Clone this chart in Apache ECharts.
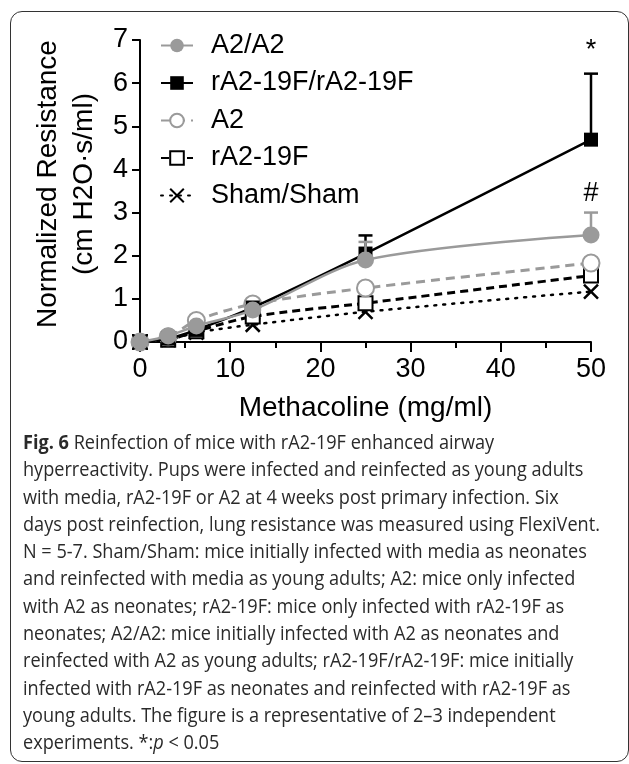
<!DOCTYPE html>
<html>
<head>
<meta charset="utf-8">
<script src="https://cdn.jsdelivr.net/npm/echarts@6/dist/echarts.min.js"></script>
<style>
html, body { margin: 0; padding: 0; background: #fff; }
#wrap { position: relative; width: 629px; height: 764px; overflow: hidden; }
#frame { position: absolute; left: 10px; top: 11px; width: 619px; height: 751px; border: 1.6px solid #333; border-radius: 12px; box-sizing: border-box; }
#chart { position: absolute; left: 0; top: 0; width: 629px; height: 764px; }
#caption { position: absolute; left: 23px; top: 428px; font-family: 'Open Sans', sans-serif; font-size: 20px; line-height: 27.3px; color: #2a2a2a; white-space: nowrap; transform-origin: left top; }
#caption span { display: inline-block; }
</style>
</head>
<body>
<div id="wrap">
  <div id="frame"></div>
  <div id="chart"></div>
  <div id="caption">
    <div><span><b>Fig. 6</b> Reinfection of mice with rA2-19F enhanced airway</span></div>
    <div><span>hyperreactivity. Pups were infected and reinfected as young adults</span></div>
    <div><span>with media, rA2-19F or A2 at 4 weeks post primary infection. Six</span></div>
    <div><span id="ref-line">days post reinfection, lung resistance was measured using FlexiVent.</span></div>
    <div><span>N = 5-7. Sham/Sham: mice initially infected with media as neonates</span></div>
    <div><span>and reinfected with media as young adults; A2: mice only infected</span></div>
    <div><span>with A2 as neonates; rA2-19F: mice only infected with rA2-19F as</span></div>
    <div><span>neonates; A2/A2: mice initially infected with A2 as neonates and</span></div>
    <div><span>reinfected with A2 as young adults; rA2-19F/rA2-19F: mice initially</span></div>
    <div><span>infected with rA2-19F as neonates and reinfected with rA2-19F as</span></div>
    <div><span>young adults. The figure is a representative of 2–3 independent</span></div>
    <div><span>experiments. *:<i>p</i> &lt; 0.05</span></div>
  </div>
</div>
<script>
// methacholine doses (mg/ml)
const doses = [0, 3.125, 6.25, 12.5, 25, 50];

const a2a2 = [0, 0.14, 0.37, 0.74, 1.9, 2.48];
const a2a2Err = [0, 0, 0, 0.05, 0.42, 0.52];
const a2a2Sig = ['', '', '', '', '', '#'];

const ra2ra2 = [0, 0.08, 0.28, 0.8, 2.05, 4.69];
const ra2ra2Err = [0, 0, 0, 0.05, 0.42, 1.53];
const ra2ra2Sig = ['', '', '', '', '', '*'];

const a2 = [0, 0.12, 0.5, 0.88, 1.25, 1.83];
const ra2 = [0, 0.05, 0.25, 0.59, 0.9, 1.54];
const sham = [0, 0.05, 0.22, 0.4, 0.7, 1.17];

const names = ['A2/A2', 'rA2-19F/rA2-19F', 'A2', 'rA2-19F', 'Sham/Sham'];

const GRAY = '#9a9a9a';
const FONT = "'Liberation Sans', Arial, sans-serif";

function pts(vals) {
  return doses.map((d, i) => [d, vals[i]]);
}

function errSeries(vals, errs, sig, color, z) {
  return {
    type: 'custom',
    name: 'err',
    z: z,
    silent: true,
    data: doses.map((d, i) => [d, vals[i], vals[i] + errs[i]]),
    encode: { x: 0, y: [1, 2] },
    renderItem: function (params, api) {
      const p0 = api.coord([api.value(0), api.value(1)]);
      const p1 = api.coord([api.value(0), api.value(2)]);
      const kids = [];
      if (p0[1] - p1[1] > 1) {
        kids.push({ type: 'line', shape: { x1: p0[0], y1: p0[1], x2: p1[0], y2: p1[1] }, style: { stroke: color, lineWidth: 2.5 } });
        kids.push({ type: 'line', shape: { x1: p1[0] - 7, y1: p1[1], x2: p1[0] + 7, y2: p1[1] }, style: { stroke: color, lineWidth: 2.5 } });
      }
      const s = sig[params.dataIndex];
      if (s) {
        // the asterisk glyph sits high, so lift it a bit more
        const lift = s === '*' ? 10 : 6;
        kids.push({ type: 'text', x: p1[0], y: p1[1] - lift, style: { text: s, fill: '#000', font: '27px ' + FONT, align: 'center', verticalAlign: 'bottom' } });
      }
      return { type: 'group', children: kids };
    }
  };
}

const chart = echarts.init(document.getElementById('chart'));
chart.setOption({
  animation: false,
  grid: { left: 140, right: 38, top: 40, bottom: 422 },
  legend: {
    data: names,
    orient: 'vertical',
    left: 160,
    top: 32,
    itemWidth: 32,
    itemHeight: 17,
    itemGap: 10.5,
    padding: 0,
    textStyle: { fontSize: 27, lineHeight: 27, color: '#000', fontFamily: FONT, padding: [0, 0, 0, 13] }
  },
  xAxis: {
    type: 'value', min: 0, max: 50, interval: 10,
    name: 'Methacoline (mg/ml)', nameLocation: 'middle', nameGap: 52,
    nameTextStyle: { fontSize: 28, lineHeight: 28, color: '#000', fontFamily: FONT },
    axisLine: { lineStyle: { color: '#000', width: 2 } },
    axisTick: { length: 10, lineStyle: { width: 2, color: '#000' } },
    minorTick: { show: true, splitNumber: 2, length: 6, lineStyle: { width: 2, color: '#000' } },
    axisLabel: { fontSize: 27, color: '#000', fontFamily: FONT, margin: 14 },
    splitLine: { show: false }
  },
  yAxis: {
    type: 'value', min: 0, max: 7, interval: 1,
    name: 'Normalized Resistance\n(cm H2O·s/ml)', nameLocation: 'middle', nameGap: 38, nameRotate: 90,
    nameTextStyle: { fontSize: 28, lineHeight: 36, color: '#000', fontFamily: FONT, padding: [0, 0, 0, 14] },
    axisLine: { show: true, lineStyle: { color: '#000', width: 2 } },
    axisTick: { show: true, length: 8, lineStyle: { width: 2, color: '#000' } },
    axisLabel: { fontSize: 27, color: '#000', fontFamily: FONT, margin: 12 },
    splitLine: { show: false }
  },
  series: [
    errSeries(ra2ra2, ra2ra2Err, ra2ra2Sig, '#000', 3),
    errSeries(a2a2, a2a2Err, a2a2Sig, GRAY, 5),
    {
      name: 'Sham/Sham', type: 'line', data: pts(sham), smooth: 0.3, z: 2,
      symbol: 'path://M0,0L10,10M10,0L0,10', symbolSize: 14,
      itemStyle: { color: '#000', borderColor: '#000', borderWidth: 2.5 },
      lineStyle: { color: '#000', width: 2.5, type: [2, 7], cap: 'round' }
    },
    {
      name: 'rA2-19F', type: 'line', data: pts(ra2), smooth: 0.3, z: 2,
      symbol: 'emptyRect', symbolSize: 14,
      itemStyle: { color: '#000', borderWidth: 2.5 },
      lineStyle: { color: '#000', width: 3, type: [8, 5] }
    },
    {
      name: 'A2', type: 'line', data: pts(a2), smooth: 0.3, z: 2,
      symbol: 'emptyCircle', symbolSize: 17,
      itemStyle: { color: GRAY, borderWidth: 2.5 },
      lineStyle: { color: GRAY, width: 3, type: [9, 6] }
    },
    {
      name: 'rA2-19F/rA2-19F', type: 'line', data: pts(ra2ra2), smooth: 0.2, z: 4,
      symbol: 'rect', symbolSize: 14,
      itemStyle: { color: '#000' },
      lineStyle: { color: '#000', width: 2.5 }
    },
    {
      name: 'A2/A2', type: 'line', data: pts(a2a2), smooth: 0.3, z: 6,
      symbol: 'circle', symbolSize: 17,
      itemStyle: { color: GRAY },
      lineStyle: { color: GRAY, width: 2.5 }
    }
  ]
});

// squeeze the caption to the width of the original typeset block
const cap = document.getElementById('caption');
const refW = document.getElementById('ref-line').offsetWidth;
cap.style.transform = 'scaleX(' + (577 / refW) + ')';
</script>
</body>
</html>
